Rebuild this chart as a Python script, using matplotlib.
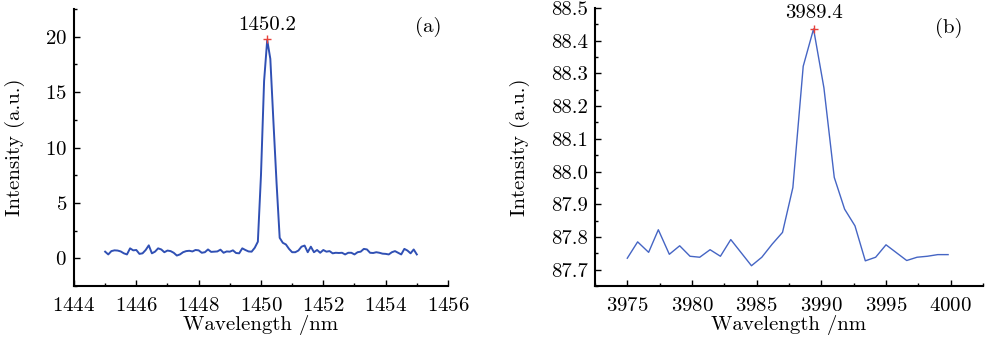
import numpy as np
import matplotlib
matplotlib.use("Agg")
import matplotlib.pyplot as plt
from matplotlib.ticker import MultipleLocator

# panel (a): spectrum around 1450 nm
wl_a = np.round(np.arange(1445.0, 1455.05, 0.1), 1)
int_a = [0.60, 0.35, 0.65, 0.72, 0.70, 0.62, 0.45, 0.35, 0.90, 0.72,
         0.75, 0.40, 0.45, 0.75, 1.17, 0.45, 0.60, 0.90, 0.80, 0.55,
         0.70, 0.65, 0.50, 0.25, 0.35, 0.55, 0.65, 0.68, 0.62, 0.75,
         0.72, 0.50, 0.55, 0.80, 0.58, 0.60, 0.62, 0.78, 0.50, 0.62,
         0.60, 0.72, 0.48, 0.45, 0.90, 0.75, 0.62, 0.60, 0.95, 1.50,
         7.50, 16.0, 19.7, 18.0, 12.3, 6.80, 1.85, 1.40, 1.25, 0.85,
         0.55, 0.55, 0.70, 1.05, 1.15, 0.55, 1.05, 0.55, 0.75, 0.50,
         0.75, 0.60, 0.65, 0.45, 0.50, 0.48, 0.50, 0.35, 0.50, 0.50,
         0.35, 0.55, 0.60, 0.85, 0.80, 0.50, 0.48, 0.55, 0.50, 0.42,
         0.40, 0.35, 0.55, 0.65, 0.50, 0.35, 0.85, 0.70, 0.45, 0.80,
         0.35]
peak_a = (1450.2, 19.75)

# panel (b): spectrum around 3990 nm
wl_b = [3975.0, 3975.8, 3976.65, 3977.4, 3978.25, 3979.05, 3979.85, 3980.6,
        3981.4, 3982.2, 3983.0, 3984.6, 3985.4, 3986.2, 3987.0, 3987.8,
        3988.6, 3989.4, 3990.2, 3991.0, 3991.8, 3992.6, 3993.4, 3994.2,
        3995.0, 3996.6, 3997.4, 3998.2, 3999.0, 3999.8]
int_b = [87.735, 87.785, 87.753, 87.822, 87.747, 87.773, 87.741, 87.738,
         87.761, 87.741, 87.792, 87.712, 87.738, 87.778, 87.814, 87.951,
         88.322, 88.436, 88.256, 87.982, 87.885, 87.834, 87.727, 87.738,
         87.776, 87.728, 87.738, 87.741, 87.746, 87.746]
peak_b = (3989.4, 88.436)

plt.rcParams["font.family"] = ["cmr10", "DejaVu Serif"]
plt.rcParams["axes.formatter.use_mathtext"] = True
plt.rcParams["axes.unicode_minus"] = False
plt.rcParams["font.size"] = 15

fig = plt.figure(figsize=(9.85, 3.38), dpi=100)
ax1 = fig.add_axes([0.0751, 0.1538, 0.3797, 0.8196])
ax2 = fig.add_axes([0.604, 0.1538, 0.394, 0.8225])

ax1.plot(wl_a, int_a, color="#3050b4", lw=1.4)
ax1.plot(*peak_a, marker="+", color="#e8413a", ms=6, mew=1)
ax1.annotate("1450.2", peak_a, xytext=(0, 4), textcoords="offset points",
             ha="center", va="bottom")
ax1.text(0.947, 0.935, "(a)", transform=ax1.transAxes, ha="center", va="center")
ax1.set_xlim(1444, 1456)
ax1.set_ylim(-2.5, 22.5)
ax1.xaxis.set_major_locator(MultipleLocator(2))
ax1.xaxis.set_minor_locator(MultipleLocator(1))
ax1.yaxis.set_major_locator(MultipleLocator(5))
ax1.yaxis.set_minor_locator(MultipleLocator(2.5))

ax2.plot(wl_b, int_b, color="#4565c4", lw=1.0)
ax2.plot(*peak_b, marker="+", color="#e8413a", ms=6, mew=1)
ax2.annotate("3989.4", peak_b, xytext=(0, 5), textcoords="offset points",
             ha="center", va="bottom")
ax2.text(0.912, 0.93, "(b)", transform=ax2.transAxes, ha="center", va="center")
ax2.set_xlim(3972.5, 4002.5)
ax2.set_ylim(87.65, 88.5)
ax2.xaxis.set_major_locator(MultipleLocator(5))
ax2.xaxis.set_minor_locator(MultipleLocator(2.5))
ax2.yaxis.set_major_locator(MultipleLocator(0.1))
ax2.yaxis.set_minor_locator(MultipleLocator(0.05))
ax2.yaxis.set_major_formatter(plt.FormatStrFormatter("%.1f"))

for ax, ylab_x in ((ax1, -0.131), (ax2, -0.168)):
    ax.spines["top"].set_visible(False)
    ax.spines["right"].set_visible(False)
    for s in ("left", "bottom"):
        ax.spines[s].set_linewidth(1.5)
    ax.tick_params(which="major", direction="in", length=4, width=1)
    ax.tick_params(axis="x", which="major", pad=8)
    ax.tick_params(axis="y", which="major", pad=5)
    ax.tick_params(which="minor", direction="in", length=2.5, width=1)
    ax.set_xlabel("Wavelength /nm")
    ax.set_ylabel("Intensity (a.u.)")
    ax.xaxis.set_label_coords(0.5, -0.105)
    ax.yaxis.set_label_coords(ylab_x, 0.5)

fig.savefig("out.png", dpi=100)
